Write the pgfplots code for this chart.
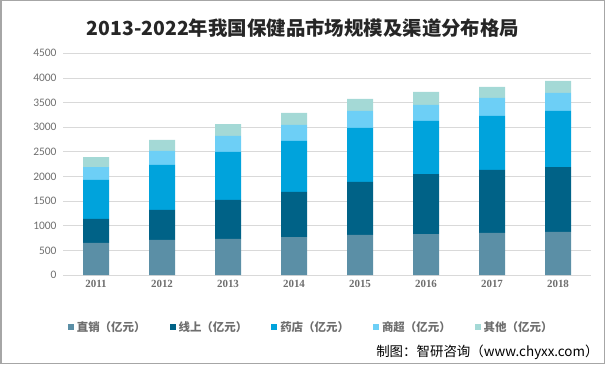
\documentclass[border=0pt]{standalone}
\usepackage{pgfplots}
\usepackage{pgfplotstable}
\pgfplotsset{compat=1.18}
\usepackage{fontspec}
\setmainfont{Carlito}
\newfontfamily\cjk{Noto Sans CJK SC}
\newfontfamily\serifnum{Liberation Serif}
\definecolor{cA}{RGB}{91,143,166}
\definecolor{cB}{RGB}{0,98,135}
\definecolor{cC}{RGB}{0,163,220}
\definecolor{cD}{RGB}{109,207,246}
\definecolor{cE}{RGB}{164,217,214}
\definecolor{txtgray}{RGB}{110,110,110}
\pgfplotstableread{
x zx xs yd sc qt
0 650 487 792 263 203
1 711 609 913 284 224
2 731 792 974 325 243
3 771 914 1035 325 244
4 812 1076 1096 345 244
5 832 1218 1076 325 264
6 853 1279 1096 365 224
7 873 1319 1137 366 243
}\datatable
\begin{document}
\begin{tikzpicture}[x=1bp,y=1bp]
\path[use as bounding box] (0,0) rectangle (605,364);
\draw[gray!70, line width=1.5bp] (0.75,0.75) rectangle (604.25,363.25);
\node[font=\cjk\bfseries\fontsize{19.5}{22}\selectfont, text=black!85] at (303,336) {2013-2022年我国保健品市场规模及渠道分布格局};
\begin{axis}[
  at={(63bp,89bp)}, anchor=south west,
  scale only axis, width=528bp, height=221.7bp,
  ybar stacked, bar width=26bp,
  xmin=-0.5, xmax=7.5, ymin=0, ymax=4500,
  ytick={0,500,...,4500},
  xtick=data, xticklabels={2011,2012,2013,2014,2015,2016,2017,2018},
  axis line style={draw=none}, tick style={draw=none},
  ymajorgrids, grid style={color=black!15, line width=0.8bp},
  /pgf/number format/assume math mode=true,
  /pgf/number format/1000 sep={},
  yticklabel style={font=\fontsize{11.5}{13}\selectfont, text=txtgray, xshift=-3bp},
  xticklabel style={font=\serifnum\bfseries\fontsize{11}{13}\selectfont, text=txtgray, yshift=-2bp},
  legend columns=5,
  legend style={at={(0.47,-0.2345)}, anchor=center, draw=none, fill=none,
    font=\cjk\bfseries\fontsize{11.5}{13}\selectfont, text=txtgray,
    /tikz/every even column/.append style={column sep=22bp},
    /tikz/every odd column/.append style={column sep=1bp}},
  legend image code/.code={\fill[#1] (0bp,-3bp) rectangle (6bp,3bp);},
]
\addplot[fill=cA, draw=none] table[x=x,y=zx]{\datatable};
\addplot[fill=cB, draw=none] table[x=x,y=xs]{\datatable};
\addplot[fill=cC, draw=none] table[x=x,y=yd]{\datatable};
\addplot[fill=cD, draw=none] table[x=x,y=sc]{\datatable};
\addplot[fill=cE, draw=none] table[x=x,y=qt]{\datatable};
\legend{直销（亿元）,线上（亿元）,药店（亿元）,商超（亿元）,其他（亿元）}
\end{axis}
\node[anchor=east, font=\cjk\fontsize{13.5}{15}\selectfont] at (602,12) {制图：智研咨询（www.chyxx.com）};
\end{tikzpicture}
\end{document}
